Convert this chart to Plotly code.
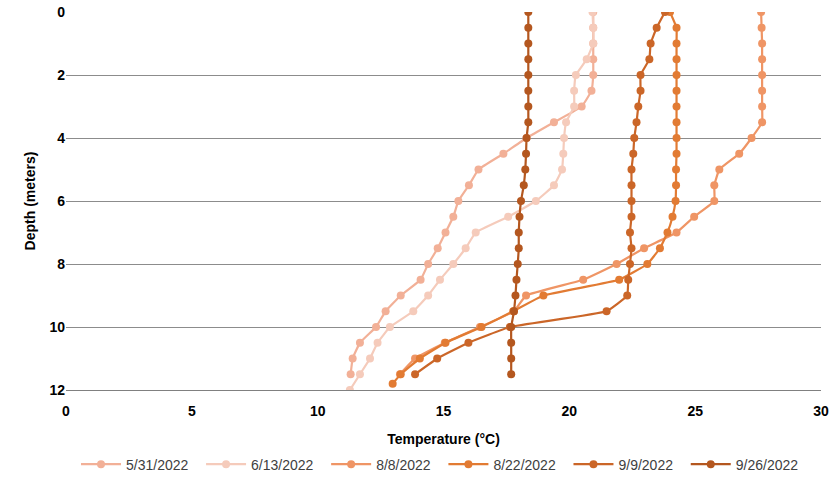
import plotly.graph_objects as go

dates = ["5/31/2022", "6/13/2022", "8/8/2022", "8/22/2022", "9/9/2022", "9/26/2022"]
colors = ["#F2B097", "#F5CBBB", "#EF9565", "#E27B33", "#CB6628", "#B4571F"]

depth_531 = [0,0.5,1,1.5,2,2.5,3,3.5,4,4.5,5,5.5,6,6.5,7,7.5,8,8.5,9,9.5,10,10.5,11,11.5]
temp_531 = [20.95,20.95,20.95,20.95,20.95,20.88,20.49,19.39,18.30,17.38,16.39,16.01,15.59,15.39,15.08,14.77,14.39,14.09,13.30,12.70,12.32,11.68,11.39,11.31]

depth_613 = [0,0.5,1,1.5,2,2.5,3,3.5,4,4.5,5,5.5,6,6.5,7,7.5,8,8.5,9,9.5,10,10.5,11,11.5,12]
temp_613 = [20.92,20.95,20.95,20.69,20.26,20.19,20.19,19.87,19.79,19.76,19.71,19.39,18.67,17.57,16.28,15.88,15.39,14.86,14.39,13.80,12.87,12.38,12.08,11.68,11.28]

depth_808 = [0,0.5,1,1.5,2,2.5,3,3.5,4,4.5,5,5.5,6,6.5,7,7.5,8,8.5,9,9.5,10,10.5,11,11.5]
temp_808 = [27.62,27.64,27.66,27.66,27.66,27.66,27.66,27.66,27.24,26.75,25.96,25.76,25.76,24.96,24.26,22.97,21.88,20.55,18.28,17.80,16.45,15.05,13.87,13.27]

depth_822 = [0,0.5,1,1.5,2,2.5,3,3.5,4,4.5,5,5.5,6,6.5,7,7.5,8,8.5,9,9.5,10,10.5,11,11.5,11.8]
temp_822 = [24.0,24.26,24.26,24.26,24.26,24.26,24.26,24.26,24.26,24.26,24.24,24.24,24.22,24.1,23.9,23.6,23.1,21.98,18.97,17.77,16.51,15.08,14.06,13.30,12.98]

depth_909 = [0,0.5,1,1.5,2,2.5,3,3.5,4,4.5,5,5.5,6,6.5,7,7.5,8,8.5,9,9.5,10,10.5,11,11.5]
temp_909 = [23.8,23.47,23.23,23.18,22.83,22.83,22.74,22.67,22.58,22.54,22.47,22.47,22.47,22.47,22.41,22.47,22.41,22.34,22.30,21.48,17.64,15.99,14.75,13.87]

depth_926 = [0,0.5,1,1.5,2,2.5,3,3.5,4,4.5,5,5.5,6,6.5,7,7.5,8,8.5,9,9.5,10,10.5,11,11.5]
temp_926 = [18.37,18.37,18.37,18.37,18.37,18.37,18.37,18.37,18.30,18.28,18.25,18.19,18.08,18.02,17.99,17.99,17.95,17.90,17.86,17.80,17.69,17.69,17.69,17.69]

series = [(temp_531, depth_531), (temp_613, depth_613), (temp_808, depth_808),
          (temp_822, depth_822), (temp_909, depth_909), (temp_926, depth_926)]

fig = go.Figure()
for (t, d), name, c in zip(series, dates, colors):
    fig.add_trace(go.Scatter(x=t, y=d, name=name + "  ", mode="lines+markers",
                             line=dict(color=c, width=2.2, shape="spline", smoothing=0.3),
                             marker=dict(color=c, size=8)))

font = "Liberation Sans"
fig.update_layout(
    width=830, height=477, plot_bgcolor="white", paper_bgcolor="white",
    margin=dict(l=66, r=9, t=12, b=87, autoexpand=False),
    font=dict(family=font, size=14, color="#404040"),
    legend=dict(orientation="h", x=0.5, xanchor="center", y=-0.155, yanchor="top",
                font=dict(size=14, color="#404040"), itemwidth=40, tracegroupgap=0),
    xaxis=dict(range=[0, 30], dtick=5, showgrid=False, zeroline=False, automargin=False,
               showline=True, linecolor="#808080", linewidth=1, ticklabelstandoff=8,
               title=dict(text="<b>Temperature (°C)</b>", font=dict(size=14, color="black"), standoff=16),
               tickfont=dict(size=14, color="black"), ticks="",
               tickprefix="<b>", ticksuffix="</b>"),
    yaxis=dict(range=[12, 0], dtick=2, showgrid=True, gridcolor="#8c8c8c", gridwidth=1,
               zeroline=False, showline=False, automargin=False,
               title=dict(text="<b>Depth (meters)</b>", font=dict(size=14, color="black"), standoff=10),
               tickfont=dict(size=14, color="black"), tickprefix="<b>", ticksuffix="</b>"),
)
fig.write_html("out.html", config={"displayModeBar": False},
               post_script="document.body.style.margin='0';document.body.style.overflow='hidden';")
